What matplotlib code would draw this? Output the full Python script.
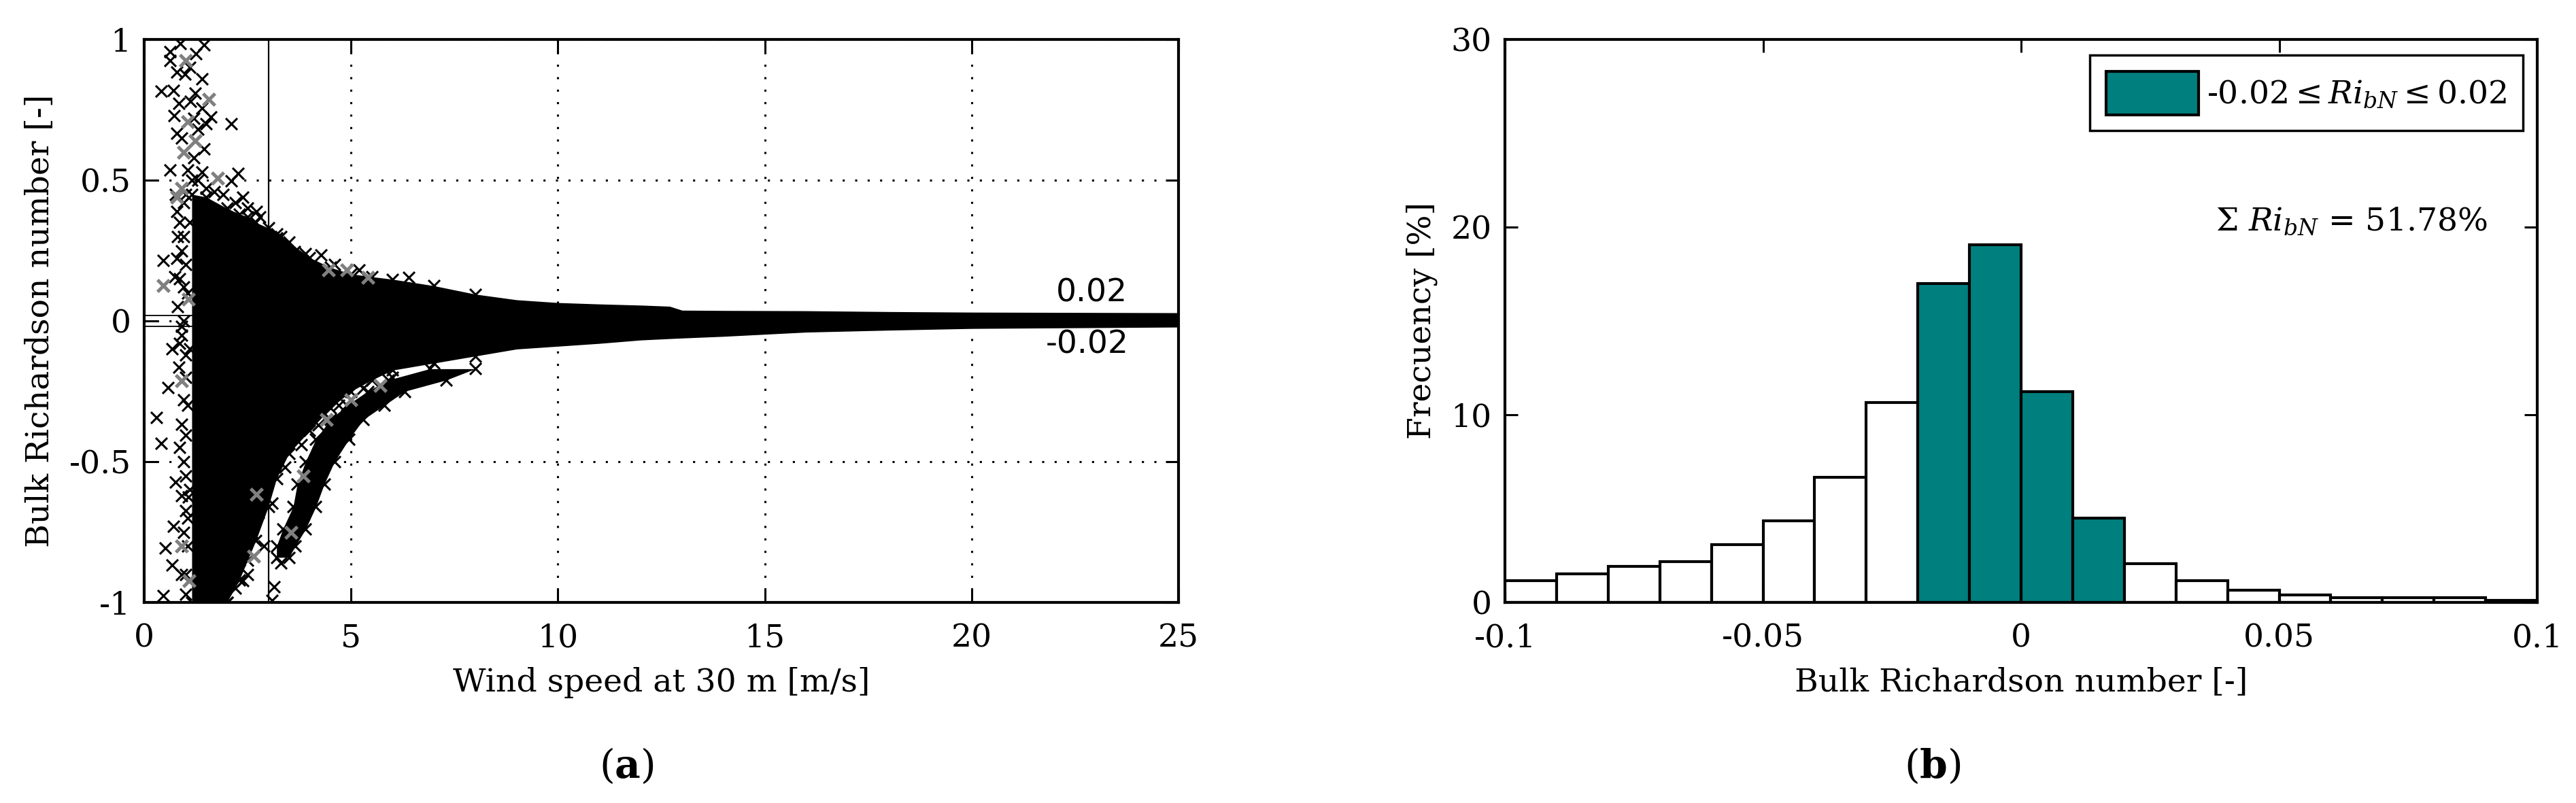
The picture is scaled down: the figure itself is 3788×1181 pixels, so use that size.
import matplotlib
matplotlib.use("Agg")
import matplotlib.pyplot as plt

plt.rcParams["font.family"] = ["DejaVu Serif"]
plt.rcParams["mathtext.fontset"] = "dejavuserif"

# --- panel (a): wind speed vs bulk Richardson number ---
# dense core of the cloud: upper / lower extent per wind speed
core_x = [1.15, 1.5, 2.0, 2.3, 2.5, 2.7, 3.0, 3.2, 3.5, 4.0, 4.5, 5.0, 5.5, 6.0,
          7.0, 8.0, 9.0, 10.0, 11.0, 12.0, 12.7, 13.0, 14.0, 16.0, 18.0, 20.0, 25.0]
core_hi = [0.45, 0.44, 0.40, 0.38, 0.37, 0.35, 0.33, 0.31, 0.28, 0.225, 0.19, 0.167,
           0.157, 0.148, 0.125, 0.095, 0.075, 0.065, 0.06, 0.056, 0.052, 0.038, 0.037,
           0.036, 0.033, 0.031, 0.029]
core_lo = [-1.0, -1.0, -1.0, -0.92, -0.85, -0.78, -0.66, -0.56, -0.47, -0.39, -0.31,
           -0.25, -0.21, -0.175, -0.15, -0.125, -0.1, -0.09, -0.08, -0.068, -0.063,
           -0.061, -0.055, -0.04, -0.033, -0.027, -0.022]

# secondary branch below the main cloud
arm_y = [-0.84, -0.80, -0.74, -0.66, -0.58, -0.50, -0.42, -0.35, -0.30, -0.25, -0.21, -0.17]
arm_left = [3.2, 3.2, 3.35, 3.6, 3.7, 3.9, 4.15, 4.5, 4.9, 5.4, 5.9, 6.9]
arm_right = [3.5, 3.65, 3.9, 4.15, 4.35, 4.6, 4.95, 5.3, 5.8, 6.3, 7.3, 8.0]

# loose points outside the core (black and grey crosses)
black_pts = [
    (0.87, 0.985), (1.45, 0.98), (0.62, 0.957), (0.62, 0.925), (0.79, 0.884), (0.98, 0.877),
    (1.40, 0.86), (0.41, 0.816), (1.23, 0.81), (0.84, 0.772), (1.12, 0.78), (1.39, 0.755),
    (0.73, 0.73), (1.61, 0.724), (2.1, 0.70), (0.79, 0.666), (0.9, 0.65), (1.45, 0.61),
    (0.62, 0.537), (1.06, 0.537), (1.4, 0.53), (2.1, 0.497), (2.27, 0.525), (2.38, 0.44),
    (2.71, 0.39), (0.79, 0.39), (0.46, 0.215), (0.79, 0.222), (4.27, 0.235), (0.74, 0.157),
    (3.64, 0.247), (3.2, 0.295), (0.68, -0.1), (0.9, -0.05), (0.84, -0.165), (0.57, -0.237),
    (0.3, -0.342), (0.9, -0.366), (0.41, -0.435), (1.0, -0.407), (0.76, -0.572),
    (1.07, -0.625), (1.0, -0.673), (0.71, -0.73), (0.51, -0.806), (0.68, -0.867),
    (0.46, -0.975), (3.09, -0.648), (3.31, -0.86), (3.14, -0.944), (3.09, -0.993),
    (2.48, -0.778), (2.38, -0.923), (2.76, -0.68), (0.95, 0.3), (1.0, 0.2), (1.05, 0.1),
    (0.95, 0.0), (1.0, -0.2), (1.05, -0.3), (0.95, -0.5), (1.05, -0.8), (1.0, -0.9),
    (1.1, 0.35), (1.0, 0.45), (0.95, 0.42), (0.75, 0.45), (0.85, 0.35), (0.8, 0.3),
    (0.9, 0.25), (0.85, 0.15), (0.95, 0.12), (0.8, 0.05), (0.9, -0.02), (0.85, -0.08),
    (1.0, -0.12), (0.95, -0.28), (0.85, -0.45), (1.0, -0.55), (0.9, -0.62), (1.05, -0.7),
    (0.95, -0.75), (0.9, -0.9), (1.0, -0.97), (1.1, -0.6), (1.1, -0.1), (1.15, 0.5),
    (1.3, 0.5), (1.5, 0.47), (1.7, 0.46), (1.9, 0.45), (2.2, 0.42), (2.5, 0.4), (2.8, 0.37),
    (1.2, 0.58), (1.3, 0.68), (1.1, 0.9), (0.7, 0.82), (1.25, 0.95), (1.5, 0.7), (1.2, 0.72),
    (2.2, -0.95), (2.3, -0.85), (2.5, -0.9), (2.6, -0.75), (2.9, -0.8), (2.0, -1.0),
    (1.8, -1.0), (1.5, -1.0), (3.3, 0.3), (3.9, 0.24), (4.6, 0.2), (5.2, 0.18), (6.4, 0.155),
    (3.4, -0.52), (3.8, -0.44), (4.2, -0.37), (4.7, -0.3), (5.3, -0.24), (6.0, -0.2),
]
gray_pts = [
    (1.0, 0.925), (1.56, 0.787), (1.06, 0.707), (1.23, 0.64), (0.95, 0.60), (1.78, 0.508),
    (0.9, 0.472), (0.79, 0.44), (0.46, 0.126), (1.07, 0.077), (4.46, 0.18), (4.9, 0.18),
    (5.4, 0.155), (0.9, -0.213), (0.9, -0.8), (1.08, -0.923), (2.65, -0.835), (2.71, -0.617),
    (4.4, -0.35), (5.0, -0.28), (5.7, -0.23), (3.85, -0.55), (3.55, -0.75),
]

ri_limit = 0.02
ws_cut = 3.0

# --- panel (b): histogram of bulk Richardson number ---
bin_edges = [-0.1, -0.09, -0.08, -0.07, -0.06, -0.05, -0.04, -0.03, -0.02, -0.01, 0.0,
             0.01, 0.02, 0.03, 0.04, 0.05, 0.06, 0.07, 0.08, 0.09, 0.1]
freq = [1.15, 1.53, 1.92, 2.18, 3.08, 4.35, 6.66, 10.65, 17.0, 19.05, 11.25, 4.48,
        2.07, 1.17, 0.65, 0.39, 0.27, 0.27, 0.27, 0.1]

teal = "#007f7f"
fs = 34

fig = plt.figure(figsize=(37.88, 11.81), dpi=100)
ax1 = fig.add_axes([212 / 3788, 295 / 1181, 1521 / 3788, 828 / 1181])
ax2 = fig.add_axes([2213 / 3788, 295 / 1181, 1518 / 3788, 828 / 1181])

# panel (a)
ax1.grid(True, linestyle=(0, (1, 5)), color="black", linewidth=2.2)
ax1.set_axisbelow(True)
ax1.axhline(ri_limit, color="black", linewidth=1.3, zorder=2)
ax1.axhline(-ri_limit, color="black", linewidth=1.3, zorder=2)
ax1.axvline(ws_cut, color="black", linewidth=1.6, zorder=2)
ax1.fill_between(core_x, core_lo, core_hi, color="black", linewidth=0, zorder=3)
ax1.fill_betweenx(arm_y, arm_left, arm_right, color="black", linewidth=0, zorder=3)

# crosses along the ragged edge of the core, where it is still wide
edge_x = [x for x in core_x if x < 9] * 2
edge_y = [y for x, y in zip(core_x, core_hi) if x < 9] + \
         [y for x, y in zip(core_x, core_lo) if x < 9]
ax1.scatter(edge_x, edge_y, marker="x", s=150, color="black", linewidths=2.2, zorder=4)
ax1.scatter(arm_left + arm_right, arm_y + arm_y, marker="x", s=150, color="black",
            linewidths=2.2, zorder=4)
ax1.scatter([p[0] for p in black_pts], [p[1] for p in black_pts], marker="x", s=150,
            color="black", linewidths=2.2, zorder=4)
ax1.scatter([p[0] for p in gray_pts], [p[1] for p in gray_pts], marker="x", s=160,
            color="#808080", linewidths=3.6, zorder=5)
ax1.text(22.9, 0.10, "0.02", fontsize=fs, ha="center", va="center", family="DejaVu Sans")
ax1.text(22.8, -0.085, "-0.02", fontsize=fs, ha="center", va="center", family="DejaVu Sans")

ax1.set_xlim(0, 25)
ax1.set_ylim(-1, 1)
ax1.set_xticks([0, 5, 10, 15, 20, 25])
ax1.set_yticks([-1, -0.5, 0, 0.5, 1])
ax1.set_yticklabels(["-1", "-0.5", "0", "0.5", "1"])
ax1.set_xlabel("Wind speed at 30 m [m/s]", fontsize=fs, labelpad=14)
ax1.set_ylabel("Bulk Richardson number [-]", fontsize=fs, labelpad=14)

# panel (b)
widths = [bin_edges[i + 1] - bin_edges[i] for i in range(len(freq))]
colors = [teal if -ri_limit <= bin_edges[i] and bin_edges[i + 1] <= ri_limit else "white"
          for i in range(len(freq))]
bars = ax2.bar(bin_edges[:-1], freq, width=widths, align="edge", color=colors,
               edgecolor="black", linewidth=3)
ax2.set_xlim(-0.1, 0.1)
ax2.set_ylim(0, 30)
ax2.set_xticks([-0.1, -0.05, 0, 0.05, 0.1])
ax2.set_xticklabels(["-0.1", "-0.05", "0", "0.05", "0.1"])
ax2.set_yticks([0, 10, 20, 30])
ax2.set_xlabel("Bulk Richardson number [-]", fontsize=fs, labelpad=14)
ax2.set_ylabel("Frecuency [%]", fontsize=fs, labelpad=14)

teal_bar = [b for b, c in zip(bars, colors) if c == teal][0]
leg = ax2.legend([teal_bar], [r"-0.02$\leq$$\mathit{Ri}_{bN}$$\leq$0.02"], loc="upper right",
                 bbox_to_anchor=(0.986, 0.972), borderaxespad=0, fontsize=fs,
                 handlelength=2.9, handleheight=1.7, handletextpad=0.25, borderpad=0.5,
                 fancybox=False, framealpha=1, edgecolor="black")
leg.get_frame().set_linewidth(2.5)
ax2.text(0.064, 20.3, r"$\Sigma\ \mathit{Ri}_{bN}$ = 51.78%", fontsize=fs,
         ha="center", va="center")

for ax in (ax1, ax2):
    ax.tick_params(direction="in", length=14, width=2.2, top=True, right=True,
                   labelsize=fs, pad=14)
    ax.tick_params(axis="x", pad=22)
    for s in ax.spines.values():
        s.set_linewidth(3)
        s.set_zorder(6)

fig.text(921 / 3788, 1 - 1127 / 1181, r"($\mathbf{a}$)", fontsize=42, ha="center", va="center")
fig.text(2842 / 3788, 1 - 1127 / 1181, r"($\mathbf{b}$)", fontsize=42, ha="center", va="center")

fig.savefig("out.png", dpi=100, facecolor="white")
